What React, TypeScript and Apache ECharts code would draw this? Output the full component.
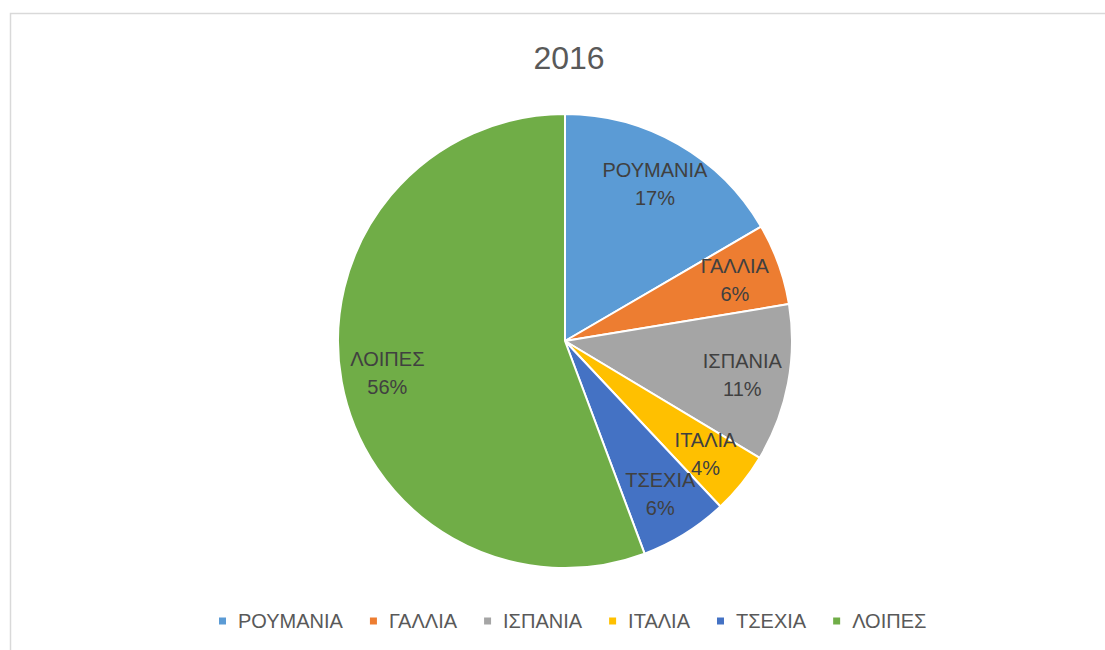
import React, { useEffect, useRef } from "react";
import * as echarts from "echarts";

const chartTitle = "2016";
const categories = ["ΡΟΥΜΑΝΙΑ", "ΓΑΛΛΙΑ", "ΙΣΠΑΝΙΑ", "ΙΤΑΛΙΑ", "ΤΣΕΧΙΑ", "ΛΟΙΠΕΣ"];
const values = [16.6, 5.8, 11.2, 4.4, 6.3, 55.7];
const colors = ["#5B9BD5", "#ED7D31", "#A5A5A5", "#FFC000", "#4472C4", "#70AD47"];

const FONT = "'Liberation Sans', Arial, sans-serif";

export default function App() {
  const ref = useRef<HTMLDivElement>(null);
  useEffect(() => {
    if (!ref.current) return;
    const chart = echarts.init(ref.current, undefined, { renderer: "svg" });
    const data = categories.map((name, i) => ({
      name,
      value: values[i],
      itemStyle: { color: colors[i] },
    }));
    chart.setOption({
      animation: false,
      backgroundColor: "#ffffff",
      title: {
        text: chartTitle,
        left: 564,
        top: 37,
        textAlign: "center",
        textStyle: { fontFamily: FONT, fontSize: 32, fontWeight: "normal", color: "#595959" },
      },
      graphic: [
        {
          type: "rect",
          shape: { x: 10.5, y: 13.5, width: 1200, height: 700 },
          style: { fill: "none", stroke: "#d9d9d9", lineWidth: 1.5 },
          silent: true,
        },
      ],
      legend: {
        data: categories,
        left: 212,
        top: 606,
        icon: "rect",
        itemWidth: 9,
        itemHeight: 9,
        itemGap: 25,
        textStyle: { fontFamily: FONT, fontSize: 20, color: "#595959", padding: [0, 0, 0, 6] },
      },
      series: [
        {
          type: "pie",
          center: [565, 341],
          radius: [0, 227],
          startAngle: 90,
          clockwise: true,
          data,
          label: { show: false },
          labelLine: { show: false },
          itemStyle: { borderColor: "#ffffff", borderWidth: 2 },
          emphasis: { disabled: true },
        },
        {
          type: "pie",
          center: [565, 341],
          radius: [128, 227],
          startAngle: 90,
          clockwise: true,
          silent: true,
          avoidLabelOverlap: false,
          percentPrecision: 0,
          data: categories.map((name, i) => ({ name, value: values[i] })),
          itemStyle: { color: "rgba(0,0,0,0)", borderWidth: 0 },
          label: {
            show: true,
            position: "inside",
            formatter: "{b}\n{d}%",
            fontFamily: FONT,
            fontSize: 20,
            lineHeight: 28,
            color: "#404040",
            align: "center",
          },
          labelLayout: { hideOverlap: false },
          labelLine: { show: false },
          emphasis: { disabled: true },
        },
      ],
    });
    return () => chart.dispose();
  }, []);
  return (
    <div
      ref={ref}
      style={{ position: "fixed", left: 0, top: 0, width: 1105, height: 650 }}
    />
  );
}
